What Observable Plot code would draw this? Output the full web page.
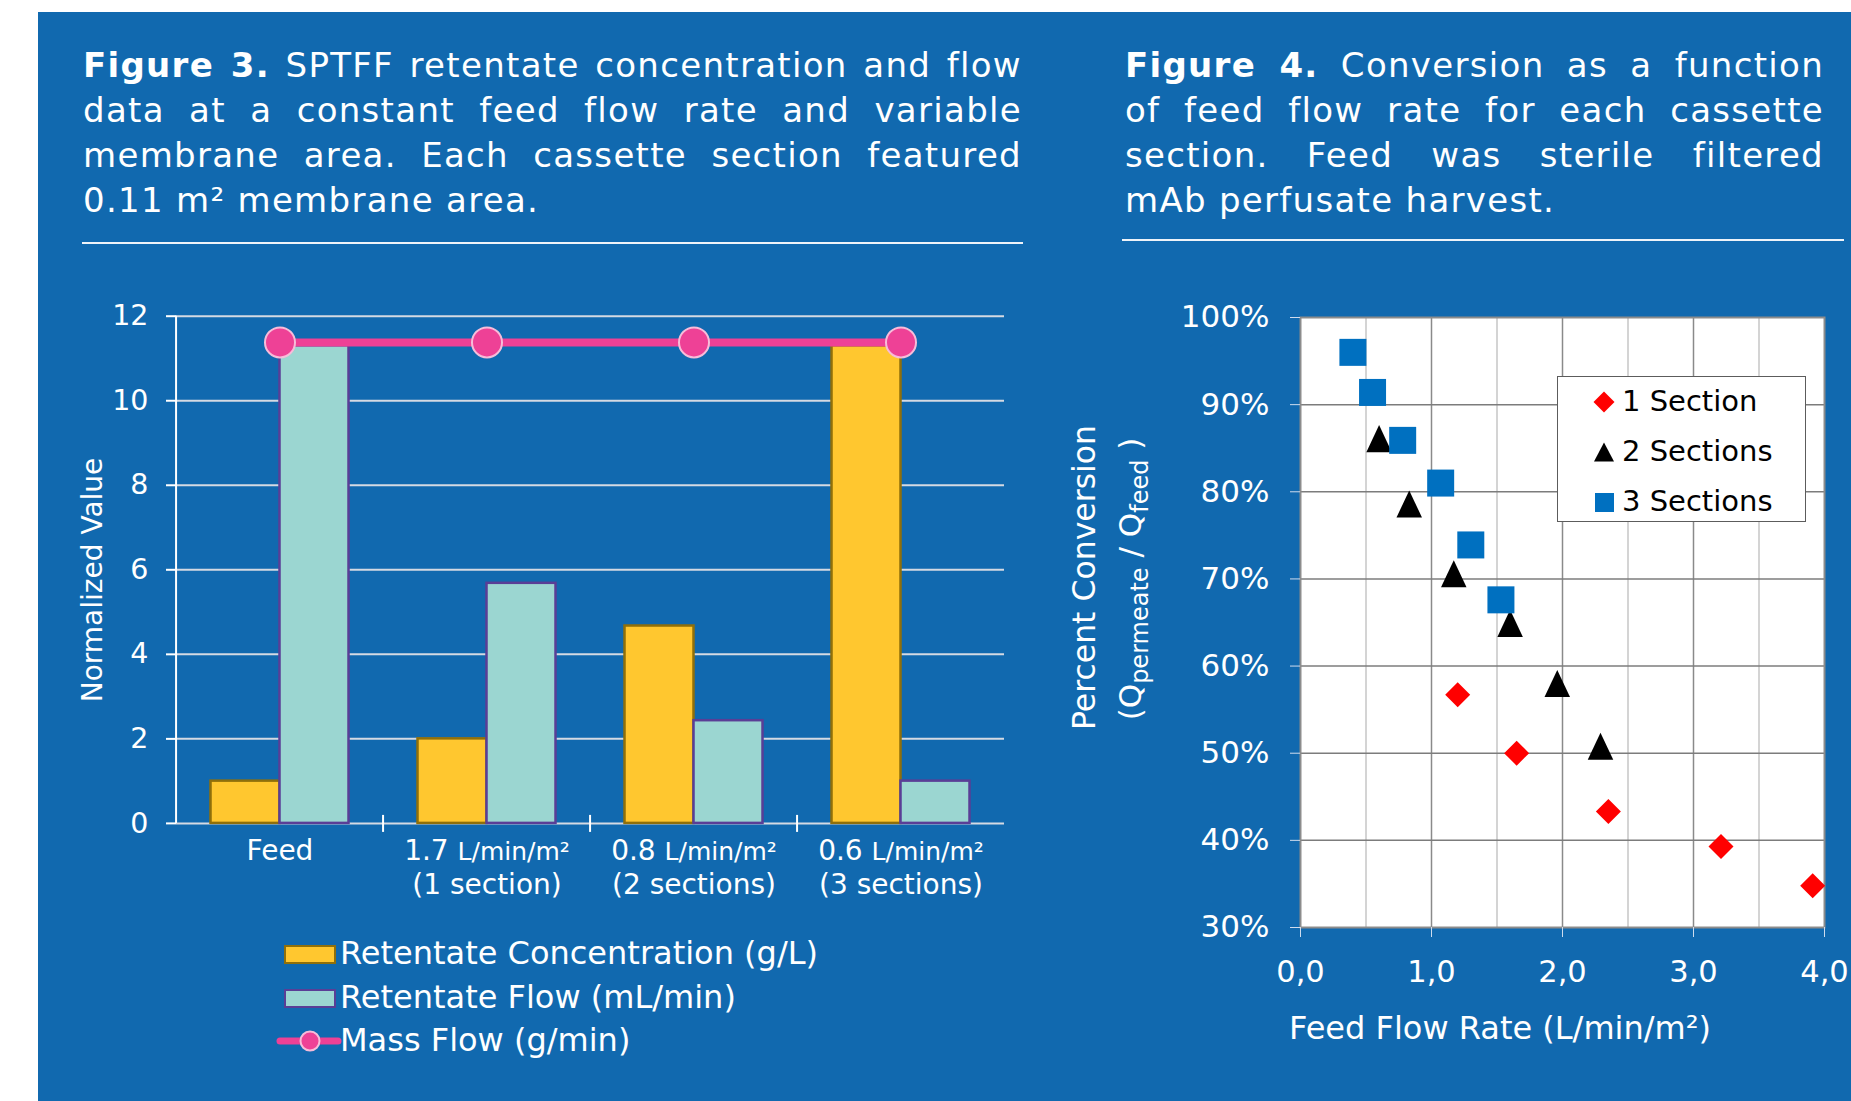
<!DOCTYPE html>
<html><head><meta charset="utf-8">
<script src="https://cdn.jsdelivr.net/npm/d3@7"></script>
<script src="https://cdn.jsdelivr.net/npm/@observablehq/plot@0.6"></script>
<style>
html,body{margin:0;padding:0;background:#fff;}
body{width:1851px;height:1101px;position:relative;overflow:hidden;font-family:"DejaVu Sans",Verdana,sans-serif;}
#bg{position:absolute;left:38px;top:12px;width:1813px;height:1089px;background:#1169af;}
.title{position:absolute;color:#fff;font-size:34px;line-height:45px;letter-spacing:1.3px;}
.title .ln{text-align:justify;text-align-last:justify;white-space:nowrap;}
.title .ln.last{text-align:left;text-align-last:left;}
.rule{position:absolute;height:2px;background:#eef3f9;}
.abs{position:absolute;}
.legtxt{position:absolute;color:#fff;font-size:32px;line-height:44px;height:44px;white-space:nowrap;}
#rleg{position:absolute;left:1557px;top:376px;width:249px;height:146px;box-sizing:border-box;border:1.5px solid #5c5c5c;background:#fff;}
#rleg .t{position:absolute;left:64px;font-size:29px;line-height:40px;height:40px;color:#000;white-space:nowrap;}
</style></head>
<body>
<div id="bg"></div>

<div class="title" style="left:83px;top:42.7px;width:939px;">
  <div class="ln"><b>Figure 3.</b> SPTFF retentate concentration and flow</div>
  <div class="ln">data at a constant feed flow rate and variable</div>
  <div class="ln">membrane area. Each cassette section featured</div>
  <div class="ln last">0.11 m² membrane area.</div>
</div>
<div class="rule" style="left:82px;top:242px;width:941px;"></div>

<div class="title" style="left:1125px;top:42.7px;width:699px;">
  <div class="ln"><b>Figure 4.</b> Conversion as a function</div>
  <div class="ln">of feed flow rate for each cassette</div>
  <div class="ln">section. Feed was sterile filtered</div>
  <div class="ln last">mAb perfusate harvest.</div>
</div>
<div class="rule" style="left:1122px;top:239px;width:722px;"></div>

<div id="leftBars" class="abs" style="left:0;top:240px;"></div>
<div id="leftLine" class="abs" style="left:0;top:240px;"></div>
<div id="leftLegend"></div>
<div id="right" class="abs" style="left:1040px;top:260px;"></div>
<div id="rleg"></div>

<script>
// ---------- DATA ----------
const categories = ["Feed", "1.7", "0.8", "0.6"];
const categoryLabels = ["Feed", "1.7 L/min/m²\n(1 section)", "0.8 L/min/m²\n(2 sections)", "0.6 L/min/m²\n(3 sections)"];
const seriesNames = ["Retentate Concentration (g/L)", "Retentate Flow (mL/min)"];
const massFlowName = "Mass Flow (g/min)";
const concentration = [1.0, 2.0, 4.67, 11.3];
const retentateFlow = [11.3, 5.68, 2.43, 1.0];
const massFlow = [11.38, 11.38, 11.38, 11.38];
const yTicksLeft = [0, 2, 4, 6, 8, 10, 12];

const seriesRight = ["1 Section", "2 Sections", "3 Sections"];
const sec1X = [1.20, 1.65, 2.35, 3.21, 3.91];
const sec1Y = [56.7, 50.0, 43.3, 39.3, 34.8];
const sec2X = [0.60, 0.83, 1.17, 1.60, 1.96, 2.29];
const sec2Y = [86.1, 78.6, 70.6, 64.9, 58.0, 50.8];
const sec3X = [0.40, 0.55, 0.78, 1.07, 1.30, 1.53];
const sec3Y = [96.0, 91.4, 85.9, 81.0, 73.9, 67.6];
const xTicksRight = [0, 1, 2, 3, 4];
const xMinorRight = [0.5, 1.5, 2.5, 3.5];
const yTicksRight = [30, 40, 50, 60, 70, 80, 90, 100];

// ---------- STYLE ----------
const FONT = "DejaVu Sans, Verdana, sans-serif";
const UNIT = "L/min/m²";
const barFill = {[seriesNames[0]]: "#ffc72f", [seriesNames[1]]: "#9bd6d1"};
const barStroke = {[seriesNames[0]]: "#8f6f0a", [seriesNames[1]]: "#5a3e96"};
const PINK = "#ee4196", PINK_EDGE = "#f7bcd9";
const svgStyle = {background: "transparent", fontFamily: FONT, color: "white", overflow: "visible", maxWidth: "none"};

// ---------- LEFT CHART ----------
const W1 = 1040, H1 = 670, ML1 = 174.5, MR1 = 34, MT1 = 75.7, MB1 = 87.1;
const step = (W1 - ML1 - MR1) / categories.length;

const barData = categories.flatMap((c, i) => [
  {cat: c, series: seriesNames[0], value: concentration[i]},
  {cat: c, series: seriesNames[1], value: retentateFlow[i]}
]);
const massData = categories.map((c, i) => ({cat: c, value: massFlow[i]}));

const barPlot = Plot.plot({
  width: W1, height: H1, marginLeft: ML1, marginRight: MR1, marginTop: MT1, marginBottom: MB1,
  style: svgStyle,
  fx: {domain: categories, padding: 0},
  x: {domain: seriesNames, paddingInner: 0, paddingOuter: 0.485, axis: null},
  y: {domain: [0, 12]},
  color: {type: "identity"},
  marks: [
    Plot.gridY(yTicksLeft, {stroke: "#d5dae3", strokeOpacity: 1, strokeWidth: 2}),
    Plot.axisY(yTicksLeft, {tickSize: 10, tickPadding: 18, fontSize: 28.5, fill: "white", stroke: "white", strokeWidth: 2, label: null}),
    Plot.axisFx({anchor: "bottom", tickSize: 0, tickPadding: 13, fontSize: 28, lineHeight: 1.2, fill: "white", label: null,
      tickFormat: d => categoryLabels[categories.indexOf(d)]}),
    Plot.barY(barData, {fx: "cat", x: "series", y: "value",
      fill: d => barFill[d.series], stroke: d => barStroke[d.series], strokeWidth: 2.5})
  ]
});
// smaller unit text in the category labels
d3.select(barPlot).selectAll("text, tspan").each(function() {
  if (this.childElementCount === 0 && this.textContent.includes(UNIT)) {
    const full = this.textContent, k = full.indexOf(UNIT);
    this.textContent = full.slice(0, k);
    d3.select(this).append("tspan").attr("font-size", 25).text(UNIT);
  }
});
d3.select(barPlot).append("text")
  .attr("transform", `translate(101.6,${580 - 240}) rotate(-90)`)
  .attr("text-anchor", "middle").attr("fill", "white").attr("font-size", 28).attr("font-family", FONT)
  .text("Normalized Value");
document.getElementById("leftBars").appendChild(barPlot);

const linePlot = Plot.plot({
  width: W1, height: H1, marginLeft: ML1, marginRight: MR1, marginTop: MT1, marginBottom: MB1,
  style: svgStyle,
  x: {type: "band", domain: categories, padding: 0, axis: null},
  y: {domain: [0, 12], axis: null},
  marks: [
    Plot.ruleX(categories.slice(0, 1), {x: d => d, dx: -step / 2, stroke: "white", strokeWidth: 2}),
    Plot.ruleX(categories.slice(1), {x: d => d, y1: 0, y2: 0, dx: -step / 2, insetTop: -8, insetBottom: -9, stroke: "white", strokeWidth: 2}),
    Plot.line(massData, {x: "cat", y: "value", stroke: PINK, strokeWidth: 8}),
    Plot.dot(massData, {x: "cat", y: "value", r: 15, fill: PINK, stroke: PINK_EDGE, strokeWidth: 2})
  ]
});
document.getElementById("leftLine").appendChild(linePlot);

// left legend
(function() {
  const leg = document.getElementById("leftLegend");
  const rows = [954, 998, 1041];
  const add = (html) => { leg.insertAdjacentHTML("beforeend", html); };
  add(`<div class="abs" style="left:284px;top:${rows[0]-9.5}px;width:52px;height:19px;box-sizing:border-box;background:${barFill[seriesNames[0]]};border:2.5px solid ${barStroke[seriesNames[0]]};"></div>`);
  add(`<div class="abs" style="left:284px;top:${rows[1]-9.5}px;width:52px;height:19px;box-sizing:border-box;background:${barFill[seriesNames[1]]};border:2.5px solid ${barStroke[seriesNames[1]]};"></div>`);
  add(`<svg class="abs" style="left:276px;top:${rows[2]-15}px" width="66" height="30"><line x1="4" y1="15" x2="62" y2="15" stroke="${PINK}" stroke-width="7" stroke-linecap="round"/><circle cx="34" cy="15" r="9.5" fill="${PINK}" stroke="${PINK_EDGE}" stroke-width="2"/></svg>`);
  const names = [seriesNames[0], seriesNames[1], massFlowName];
  names.forEach((n, i) => add(`<div class="legtxt" style="left:340px;top:${rows[i]-23}px">${n}</div>`));
})();

// ---------- RIGHT CHART ----------
const W2 = 811, H2 = 800, ML2 = 260, MR2 = 27, MT2 = 57, MB2 = 133;
const sec1 = sec1X.map((x, i) => ({x, y: sec1Y[i]}));
const sec2 = sec2X.map((x, i) => ({x, y: sec2Y[i]}));
const sec3 = sec3X.map((x, i) => ({x, y: sec3Y[i]}));

const symDiamond = {draw(ctx, size) { const h = Math.sqrt(size) / 2; ctx.moveTo(0, -h); ctx.lineTo(h, 0); ctx.lineTo(0, h); ctx.lineTo(-h, 0); ctx.closePath(); }};
const symTriangle = {draw(ctx, size) { const a = Math.sqrt(size) / 2, h = a * 1.06; ctx.moveTo(0, -h); ctx.lineTo(a, h); ctx.lineTo(-a, h); ctx.closePath(); }};
const symSquare = {draw(ctx, size) { const a = Math.sqrt(size) / 2; ctx.rect(-a, -a, 2 * a, 2 * a); }};
const rFor = w => w / Math.sqrt(Math.PI);
const markerColors = ["#ff0000", "#000000", "#0070c0"];

const rightPlot = Plot.plot({
  width: W2, height: H2, marginLeft: ML2, marginRight: MR2, marginTop: MT2, marginBottom: MB2,
  style: svgStyle,
  x: {domain: [0, 4]},
  y: {domain: [30, 100]},
  marks: [
    Plot.frame({fill: "white"}),
    Plot.gridX(xMinorRight, {stroke: "#c6c6c6", strokeOpacity: 1, strokeWidth: 1.5}),
    Plot.gridX(xTicksRight.slice(1, -1), {stroke: "#8a8a8a", strokeOpacity: 1, strokeWidth: 1.5}),
    Plot.gridY(yTicksRight.slice(1, -1), {stroke: "#7c7c7c", strokeOpacity: 1, strokeWidth: 1.5}),
    Plot.frame({stroke: "#8c8c8c", strokeWidth: 2}),
    Plot.axisX(xTicksRight, {tickSize: 10, tickPadding: 23, fontSize: 30.5, fill: "white", stroke: "#cfdcee", label: null,
      tickFormat: d => d3.format(".1f")(d).replace(".", ",")}),
    Plot.axisY(yTicksRight, {tickSize: 10, tickPadding: 21, fontSize: 31, fill: "white", stroke: "#cfdcee", label: null,
      tickFormat: d => d + "%"}),
    Plot.dot(sec1, {x: "x", y: "y", symbol: symDiamond, r: rFor(25), fill: markerColors[0]}),
    Plot.dot(sec2, {x: "x", y: "y", symbol: symTriangle, r: rFor(25.5), fill: markerColors[1]}),
    Plot.dot(sec3, {x: "x", y: "y", symbol: symSquare, r: rFor(27), fill: markerColors[2]})
  ]
});
(function() {
  const g = d3.select(rightPlot).append("g").attr("fill", "white").attr("font-family", FONT).attr("text-anchor", "middle");
  g.append("text").attr("font-size", 31.5).attr("transform", `translate(${1095 - 1040},${577.5 - 260}) rotate(-90)`).text("Percent Conversion");
  const t2 = g.append("text").attr("font-size", 31).attr("transform", `translate(${1141 - 1040},${579 - 260}) rotate(-90)`);
  t2.append("tspan").text("(Q");
  t2.append("tspan").attr("font-size", 24).attr("dy", 7).text("permeate");
  t2.append("tspan").attr("dy", -7).text(" / Q");
  t2.append("tspan").attr("font-size", 24).attr("dy", 7).text("feed");
  t2.append("tspan").attr("dy", -7).text(" )");
  g.append("text").attr("font-size", 32).attr("x", 1500 - 1040).attr("y", 1038.5 - 260).text("Feed Flow Rate (L/min/m²)");
})();
document.getElementById("right").appendChild(rightPlot);

// right legend
(function() {
  const leg = document.getElementById("rleg");
  const cy = [25, 75, 125];
  const cx = 46;
  leg.insertAdjacentHTML("beforeend", `<svg class="abs" style="left:${cx-11}px;top:${cy[0]-11}px" width="22" height="22"><polygon points="11,0.5 21.5,11 11,21.5 0.5,11" fill="${markerColors[0]}"/></svg>`);
  leg.insertAdjacentHTML("beforeend", `<svg class="abs" style="left:${cx-10}px;top:${cy[1]-10}px" width="20" height="20"><polygon points="10,0.5 20,19.5 0,19.5" fill="${markerColors[1]}"/></svg>`);
  leg.insertAdjacentHTML("beforeend", `<svg class="abs" style="left:${cx-9.5}px;top:${cy[2]-9.5}px" width="19" height="19"><rect x="0" y="0" width="19" height="19" fill="${markerColors[2]}"/></svg>`);
  seriesRight.forEach((n, i) => leg.insertAdjacentHTML("beforeend", `<div class="t" style="top:${cy[i]-21}px">${n}</div>`));
})();
</script>
</body></html>
